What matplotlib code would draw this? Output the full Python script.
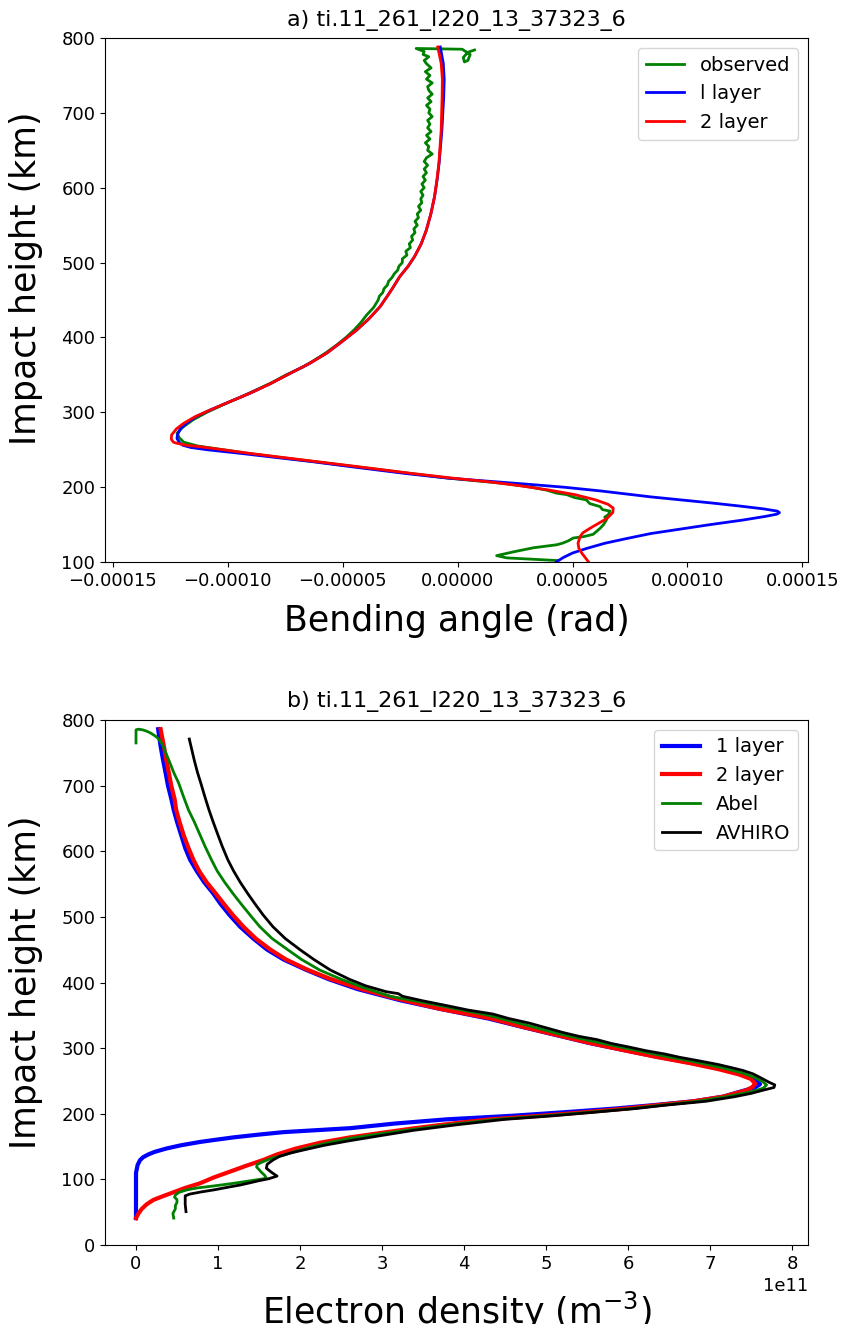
#!/usr/bin/env python3
"""
Bending angle and electron density profiles for occultation ti.11_261_l220_13_37323_6.
Output: out.png
"""
import matplotlib
matplotlib.use("Agg")
import matplotlib.pyplot as plt

TITLE_ID = "ti.11_261_l220_13_37323_6"

# ---- panel a: bending angle (units of 1e-5 rad) vs impact height (km) ----
obs_h = [784, 781, 774, 768, 770, 778, 785, 786, 782, 778, 775, 770, 766, 760, 755,
         750, 745, 740, 735, 730, 725, 720, 715, 710, 705, 700, 695, 690, 685, 680,
         675, 670, 665, 660, 655, 650, 645, 640, 635, 630, 625, 620, 615, 610, 605,
         600, 595, 590, 585, 580, 575, 570, 565, 560, 555, 550, 545, 540, 535, 530,
         525, 520, 515, 510, 505, 500, 495, 490, 485, 480, 475, 470, 465, 460, 455,
         450, 440, 430, 420, 410, 400, 390, 380, 370, 360, 350, 340, 330, 320, 310,
         300, 290, 280, 272, 266, 260, 255, 250, 245, 234, 223, 212, 205, 200, 196,
         192, 190, 186, 183, 178, 174, 170, 168, 163, 160, 157, 150, 145, 141, 137,
         134, 132, 128, 125, 123, 119, 114, 108.5, 105.5, 102]
obs_a = [0.74, 0.45, 0.25, 0.30, 0.45, 0.55, 0.20, -1.80, -1.45, -1.50, -1.25, -1.45, -1.36, -1.15, -1.40,
         -1.20, -1.35, -1.10, -1.30, -1.25, -1.10, -1.30, -1.15, -1.35, -1.20, -1.25, -1.10, -1.30, -1.20, -1.30,
         -1.15, -1.35, -1.20, -1.40, -1.25, -1.30, -1.10, -1.35, -1.45, -1.30, -1.45, -1.35, -1.50, -1.40, -1.55,
         -1.45, -1.60, -1.50, -1.60, -1.55, -1.70, -1.60, -1.75, -1.70, -1.85, -1.75, -1.90, -1.85, -2.00, -1.95,
         -2.10, -2.05, -2.25, -2.20, -2.40, -2.40, -2.55, -2.60, -2.75, -2.85, -3.00, -3.05, -3.20, -3.25, -3.40,
         -3.45, -3.65, -3.95, -4.20, -4.50, -4.85, -5.25, -5.70, -6.20, -6.75, -7.45, -8.05, -8.75, -9.45, -10.20,
         -10.90, -11.50, -11.95, -12.20, -12.10, -11.90, -11.30, -10.20, -9.10, -6.20, -3.30, -0.40, 2.00, 3.20, 3.88,
         4.30, 4.75, 5.10, 5.60, 5.75, 6.20, 6.30, 6.63, 6.55, 6.40, 6.49, 6.35, 6.20, 6.05, 5.90,
         5.50, 5.03, 4.80, 4.55, 4.31, 3.30, 2.50, 1.70, 2.14, 4.31]

one_h = [788, 766, 745, 722, 700, 677, 655, 633, 610, 588, 565, 543, 525, 508, 495,
         481, 466, 454, 441, 425, 410, 395, 379, 365, 352, 338, 325.5, 314, 303, 294,
         285, 278, 270, 265, 260, 256, 253, 250, 245, 240, 234, 228, 223, 218, 212,
         208, 204, 200, 195, 191, 187, 183, 179, 175, 171, 168, 166, 164, 161, 156,
         150, 144, 138, 131, 125, 118, 112, 106, 100.4]
one_a = [-0.75, -0.62, -0.58, -0.60, -0.64, -0.68, -0.74, -0.80, -0.89, -1.00, -1.16, -1.36, -1.58, -1.87, -2.15,
         -2.52, -2.82, -3.08, -3.37, -3.85, -4.38, -5.00, -5.69, -6.45, -7.28, -8.15, -9.02, -9.92, -10.76, -11.38,
         -11.80, -12.05, -12.18, -12.20, -12.10, -11.95, -11.60, -10.90, -9.40, -8.00, -6.30, -4.80, -3.50, -2.20, -0.40,
         1.30, 3.00, 4.60, 6.20, 7.30, 8.40, 9.70, 11.00, 12.20, 13.30, 13.90, 14.00, 13.90, 13.40, 12.40,
         11.00, 9.70, 8.40, 7.30, 6.40, 5.60, 5.00, 4.60, 4.31]

two_h = [788, 766, 745, 722, 700, 677, 655, 633, 610, 588, 565, 543, 525, 508, 495,
         481, 466, 454, 441, 425, 410, 395, 379, 365, 352, 338, 325.5, 314, 303, 294,
         285, 278, 270, 264, 260, 258.6, 256, 254, 250, 245, 240, 234, 228, 223, 218,
         212, 207, 202, 196, 190, 183, 177, 172, 166, 158, 152, 145, 139, 134, 125,
         118, 112, 106, 100.4]
two_a = [-0.86, -0.71, -0.66, -0.67, -0.69, -0.71, -0.76, -0.81, -0.90, -1.00, -1.16, -1.36, -1.58, -1.87, -2.15,
         -2.52, -2.82, -3.08, -3.37, -3.85, -4.38, -5.00, -5.69, -6.45, -7.28, -8.15, -9.02, -9.92, -10.76, -11.42,
         -11.92, -12.22, -12.43, -12.45, -12.35, -12.20, -11.80, -11.20, -10.20, -9.00, -7.70, -6.10, -4.50, -3.20, -1.90,
         -0.20, 1.40, 2.70, 4.00, 5.10, 6.00, 6.55, 6.77, 6.75, 6.49, 6.15, 5.76, 5.45, 5.33, 5.24,
         5.28, 5.40, 5.55, 5.69]

# ---- panel b: electron density (units of 1e11 m^-3) vs impact height (km) ----
ne1_h = [786, 760, 739, 720, 700, 680, 663, 645, 625, 605, 587, 570, 553, 536, 520,
         503, 485, 467, 450, 435, 419, 405, 390, 373, 360, 345, 332, 320, 308, 297,
         287, 277, 268, 260, 252, 245, 240, 233, 226, 219, 213, 208, 203, 197, 191.5,
         185, 178, 172, 168, 164, 160, 157, 152, 147, 142, 138, 134, 129.5, 122, 110,
         41]
ne1_x = [0.27, 0.30, 0.33, 0.36, 0.39, 0.43, 0.46, 0.50, 0.55, 0.60, 0.66, 0.74, 0.83, 0.94, 1.03,
         1.14, 1.27, 1.43, 1.60, 1.80, 2.08, 2.35, 2.70, 3.22, 3.70, 4.30, 4.72, 5.12, 5.52, 5.95,
         6.35, 6.80, 7.15, 7.40, 7.55, 7.61, 7.55, 7.35, 7.16, 6.80, 6.30, 5.85, 5.30, 4.60, 3.79,
         3.15, 2.61, 1.80, 1.48, 1.19, 0.95, 0.78, 0.55, 0.37, 0.23, 0.15, 0.09, 0.05, 0.02, 0.0,
         0.0]

ne2_h = [786, 760, 739, 720, 700, 680, 663, 645, 625, 605, 587, 570, 553, 536, 520,
         503, 485, 467, 450, 435, 419, 405, 390, 378, 360, 345.5, 332, 320, 308, 297,
         287, 277, 268, 260, 253, 246, 241, 236, 226, 219, 213, 208, 203, 197, 191.5,
         185, 178, 171, 164, 156, 147, 138, 129.5, 121, 112, 103, 94, 87, 80, 74,
         68.6, 62, 55, 48, 41]
ne2_x = [0.30, 0.34, 0.37, 0.40, 0.43, 0.47, 0.49, 0.53, 0.58, 0.64, 0.70, 0.77, 0.86, 0.97, 1.07,
         1.18, 1.31, 1.46, 1.64, 1.83, 2.10, 2.38, 2.75, 3.10, 3.70, 4.32, 4.73, 5.13, 5.53, 5.94,
         6.33, 6.76, 7.10, 7.35, 7.50, 7.55, 7.52, 7.45, 7.16, 6.80, 6.35, 5.98, 5.54, 4.95, 4.32,
         3.85, 3.40, 3.00, 2.61, 2.25, 1.95, 1.72, 1.55, 1.35, 1.15, 0.95, 0.78, 0.60, 0.45, 0.32,
         0.21, 0.13, 0.07, 0.03, 0.0]

abel_h = [765, 785, 786, 785, 783, 780, 776, 772, 763, 754, 739, 720, 704, 683, 663,
          645, 628, 608, 587, 570, 553, 536, 520, 503, 485, 467, 450, 435, 419, 405,
          392, 379, 365, 350, 336, 322, 311, 300, 289, 279, 270, 262, 255, 249, 244,
          239, 234, 226, 219, 213, 208, 203, 197, 191.5, 183, 175, 168, 162.5, 156, 150,
          143, 137, 132, 127, 123, 119, 115, 112, 106, 101.6, 98, 94, 90, 87, 84,
          80, 76, 73, 69, 65, 60, 55, 48, 41]
abel_x = [0.0, 0.0, 0.03, 0.08, 0.13, 0.18, 0.23, 0.27, 0.32, 0.35, 0.40, 0.46, 0.52, 0.58, 0.64,
          0.71, 0.77, 0.84, 0.92, 0.99, 1.08, 1.18, 1.28, 1.39, 1.51, 1.66, 1.85, 2.02, 2.24, 2.50,
          2.78, 3.10, 3.70, 4.30, 4.73, 5.15, 5.55, 5.97, 6.40, 6.82, 7.15, 7.40, 7.55, 7.64, 7.69,
          7.65, 7.52, 7.20, 6.85, 6.40, 6.05, 5.60, 5.00, 4.40, 3.80, 3.30, 2.90, 2.61, 2.35, 2.15,
          1.95, 1.80, 1.65, 1.55, 1.48, 1.47, 1.50, 1.52, 1.57, 1.59, 1.40, 1.19, 0.95, 0.75, 0.62,
          0.52, 0.48, 0.47, 0.50, 0.50, 0.48, 0.48, 0.45, 0.46]

avh_h = [771, 755, 739, 720, 704, 683, 663, 645, 628, 608, 587, 570, 553, 536, 520,
         503, 485, 467, 450, 435, 419, 405, 395, 386, 383, 379, 372, 365, 358, 352,
         345, 338, 331, 324, 318, 313, 307, 302, 296, 291, 286, 281, 275, 270, 266,
         261, 256, 252, 248, 244, 240, 236, 231, 226, 219, 213, 208, 203, 197, 191.5,
         183, 175, 167, 159, 152, 145, 140, 135, 129.5, 123, 117, 111, 105, 101, 98,
         94.5, 91.4, 88, 84, 81, 77.7, 75, 73.6, 62, 50.8]
avh_x = [0.65, 0.68, 0.71, 0.75, 0.79, 0.84, 0.89, 0.94, 0.99, 1.05, 1.12, 1.19, 1.27, 1.36, 1.45,
         1.55, 1.67, 1.82, 2.00, 2.17, 2.37, 2.60, 2.80, 3.05, 3.20, 3.25, 3.50, 3.78, 4.05, 4.35,
         4.55, 4.80, 5.00, 5.20, 5.40, 5.62, 5.80, 6.00, 6.22, 6.45, 6.63, 6.85, 7.10, 7.27, 7.40,
         7.52, 7.60, 7.66, 7.72, 7.79, 7.78, 7.65, 7.50, 7.30, 6.95, 6.45, 6.10, 5.65, 5.10, 4.50,
         3.90, 3.40, 3.00, 2.61, 2.30, 2.05, 1.88, 1.75, 1.67, 1.60, 1.59, 1.65, 1.72, 1.62, 1.50,
         1.38, 1.27, 1.12, 0.95, 0.80, 0.66, 0.60, 0.60, 0.60, 0.61]


def main():
    W, H = 841, 1324
    fig = plt.figure(figsize=(W / 100, H / 100), dpi=100, facecolor="white")

    TICK_FS = 13
    LABEL_FS = 25
    TITLE_FS = 16
    LEG_FS = 14

    # ---- top panel ----
    ax1 = fig.add_axes([105 / W, 1 - 562 / H, 703 / W, 524 / H])
    ax1.plot([a * 1e-5 for a in obs_a], obs_h, color="green", lw=2, label="observed")
    ax1.plot([a * 1e-5 for a in one_a], one_h, color="blue", lw=2, label="l layer")
    ax1.plot([a * 1e-5 for a in two_a], two_h, color="red", lw=2, label="2 layer")
    ax1.set_xlim(-1.533e-4, 1.524e-4)
    ax1.set_ylim(100, 800)
    ax1.set_xticks([-1.5e-4, -1e-4, -0.5e-4, 0, 0.5e-4, 1e-4, 1.5e-4])
    ax1.set_yticks(range(100, 801, 100))
    ax1.tick_params(labelsize=TICK_FS)
    ax1.set_xlabel("Bending angle (rad)", fontsize=LABEL_FS, labelpad=10)
    ax1.set_ylabel("Impact height (km)", fontsize=LABEL_FS)
    ax1.yaxis.set_label_coords(-0.088, 0.541)
    ax1.set_title("a) " + TITLE_ID, fontsize=TITLE_FS, pad=9)
    ax1.legend(loc="upper right", fontsize=LEG_FS)

    # ---- bottom panel ----
    ax2 = fig.add_axes([105 / W, 1 - 1245 / H, 703 / W, 525 / H])
    ax2.plot([x * 1e11 for x in ne1_x], ne1_h, color="blue", lw=3, label="1 layer")
    ax2.plot([x * 1e11 for x in ne2_x], ne2_h, color="red", lw=3, label="2 layer")
    ax2.plot([x * 1e11 for x in abel_x], abel_h, color="green", lw=2, label="Abel")
    ax2.plot([x * 1e11 for x in avh_x], avh_h, color="black", lw=2, label="AVHIRO")
    ax2.set_xlim(-0.378e11, 8.195e11)
    ax2.set_ylim(0, 800)
    ax2.set_xticks([i * 1e11 for i in range(9)])
    ax2.set_yticks(range(0, 801, 100))
    ax2.tick_params(labelsize=TICK_FS)
    ax2.xaxis.get_offset_text().set_fontsize(TICK_FS)
    ax2.set_xlabel("Electron density (m$^{-3}$)", fontsize=LABEL_FS, labelpad=12)
    ax2.set_ylabel("Impact height (km)", fontsize=LABEL_FS)
    ax2.yaxis.set_label_coords(-0.088, 0.5)
    ax2.set_title("b) " + TITLE_ID, fontsize=TITLE_FS, pad=9)
    ax2.legend(loc="upper right", fontsize=LEG_FS)

    fig.savefig("out.png", dpi=100, facecolor="white")
    plt.close()


if __name__ == "__main__":
    main()
